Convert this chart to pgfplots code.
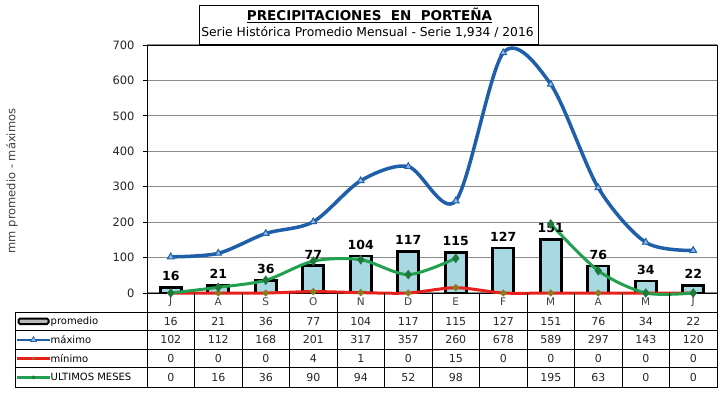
\documentclass[border=0pt]{standalone}
\usepackage{pgfplots}
\pgfplotsset{compat=1.18}
\usepackage{fontspec}
\setmainfont{DejaVu Sans}
\newfontfamily\arialf{Liberation Sans}
\definecolor{barfill}{HTML}{A8D8E2}
\definecolor{maxblue}{HTML}{1F5FAA}
\definecolor{maxmark}{HTML}{8DB8E8}
\definecolor{ultgreen}{HTML}{22A050}
\definecolor{ultmark}{HTML}{1E7A3A}
\definecolor{minred}{HTML}{E8201C}
\definecolor{minmark}{HTML}{8A7A20}
\definecolor{gridgrey}{HTML}{8C8C8C}
\begin{document}
\begin{tikzpicture}[x=1pt,y=1pt]
\useasboundingbox (0,0) rectangle (728,394);
\fill[white] (0,0) rectangle (728,394);
\begin{axis}[at={(147pt,101pt)}, anchor=south west, scale only axis,
  width=570pt, height=248pt,
  xmin=-0.5, xmax=11.5, ymin=0, ymax=700,
  xtick=\empty, ytick={0,100,...,700},
  ymajorgrids, grid style={gridgrey, line width=1.2pt},
  axis line style={black, line width=0.8pt},
  tick style={black, line width=0.8pt}, major tick length=4pt,
  tick align=outside, ytick pos=left,
  yticklabel style={font=\fontsize{11.5}{12}\selectfont, text=black!85, xshift=-5pt},
  /pgf/number format/assume math mode=true,
  clip=false]
\addplot[ybar, bar width=21pt, bar shift=0pt, fill=barfill, draw=black, line width=2.6pt,
  nodes near coords,
  every node near coord/.append style={font=\bfseries\fontsize{12.5}{13}\selectfont, text=black, yshift=2pt}]
  coordinates {(0,16)(1,21)(2,36)(3,77)(4,104)(5,117)(6,115)(7,127)(8,151)(9,76)(10,34)(11,22)};
\addplot[maxblue, line width=3.5pt, smooth, mark=triangle*,
  mark options={fill=maxmark, draw=maxblue, line width=1pt, scale=1.9}]
  coordinates {(0,102)(1,112)(2,168)(3,201)(4,317)(5,357)(6,260)(7,678)(8,589)(9,297)(10,143)(11,120)};
\addplot[minred, line width=3pt, smooth, mark=*,
  mark options={fill=minmark, draw=minmark, scale=0.8}]
  coordinates {(0,0)(1,0)(2,0)(3,4)(4,1)(5,0)(6,15)(7,0)(8,0)(9,0)(10,0)(11,0)};
\addplot[ultgreen, line width=3pt, smooth, mark=diamond*,
  mark options={fill=ultmark, draw=ultmark, scale=1.2}]
  coordinates {(0,0)(1,16)(2,36)(3,90)(4,94)(5,52)(6,98)};
\addplot[ultgreen, line width=3pt, smooth, mark=diamond*,
  mark options={fill=ultmark, draw=ultmark, scale=1.2}]
  coordinates {(8,195)(9,63)(10,0)(11,0)};
\end{axis}
% y label
\node[rotate=90, font=\fontsize{11.5}{12}\selectfont, text=black!75] at (12,213) {mm promedio - máximos};
% title box
\draw[black, line width=0.8pt, fill=white] (199,350) rectangle (538,389);
\node[font=\bfseries\fontsize{13.5}{15}\selectfont] at (369.5,378.5) {\underline{PRECIPITACIONES\ \ EN\ \ PORTEÑA}};
\node[font=\fontsize{12.3}{14}\selectfont] at (367.5,361.5) {Serie Histórica Promedio Mensual - Serie 1,934 / 2016};
% data table
\foreach \k in {0,...,12} \draw[black, line width=0.8pt] ({147+47.5*\k},101) -- ({147+47.5*\k},82);
\foreach \k/\m in {0/J,1/A,2/S,3/O,4/N,5/D,6/E,7/F,8/M,9/A,10/M,11/J}
  \node[font=\fontsize{10.5}{12}\selectfont, text=black!75] at ({147+47.5*\k+23.75},92) {\m};
\draw[black, line width=0.8pt] (15,7) rectangle (717,82);
\foreach \yy in {63.5,45,26.5} \draw[black, line width=0.8pt] (15,\yy) -- (717,\yy);
\foreach \k in {0,...,11} \draw[black, line width=0.8pt] ({147+47.5*\k},7) -- ({147+47.5*\k},82);
\foreach \r/\yy in {0/72.75,1/54.25,2/35.75,3/16.75}{
  \ifcase\r
    \def\vals{16,21,36,77,104,117,115,127,151,76,34,22}\or
    \def\vals{102,112,168,201,317,357,260,678,589,297,143,120}\or
    \def\vals{0,0,0,4,1,0,15,0,0,0,0,0}\or
    \def\vals{0,16,36,90,94,52,98,{},195,63,0,0}\fi
  \foreach \v [count=\c from 0] in \vals
    \node[font=\fontsize{11}{12}\selectfont, text=black!85] at ({147+47.5*\c+23.75},\yy) {\v};
}
% legend keys
\draw[black, line width=2pt, rounded corners=1.5pt, fill=gray!55] (18.5,70) rectangle (48.5,75.5);
\draw[maxblue, line width=2.5pt] (17,54.25) -- (50,54.25);
\filldraw[fill=maxmark, draw=maxblue, line width=0.6pt] (30.5,52.5) -- (36.5,52.5) -- (33.5,57.5) -- cycle;
\draw[minred, line width=2.5pt] (17,35.75) -- (50,35.75);
\fill[minmark] (33.5,35.75) circle (1.6pt);
\draw[ultgreen, line width=2.5pt] (17,16.75) -- (50,16.75);
\fill[ultmark] (33.5,14.75) -- (35.5,16.75) -- (33.5,18.75) -- (31.5,16.75) -- cycle;
\foreach \t/\yy in {promedio/72.75, máximo/54.25, mínimo/35.75, ULTIMOS MESES/16.75}
  \node[anchor=west, font=\fontsize{10}{12}\selectfont, inner sep=0pt] at (50.5,\yy) {\t};
\end{tikzpicture}
\end{document}
